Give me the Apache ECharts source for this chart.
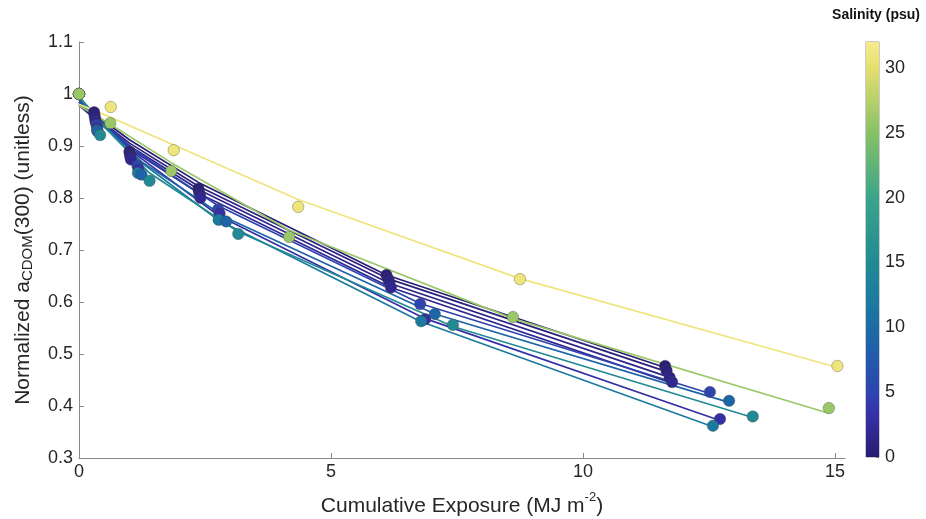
<!DOCTYPE html>
<html><head><meta charset="utf-8">
<script src="https://cdn.jsdelivr.net/npm/echarts@6/dist/echarts.min.js"></script>
<style>html,body{margin:0;padding:0;background:#fff}#c{width:926px;height:519px}</style>
</head><body><div id="c"></div>
<script>
// ---- Data ----
// Salinity (psu) of each incubation
const salYellow = 31, salGreen = 26;
const salA = 0.3, salB = 0.8, salC = 1.3, salD = 1.8;
const salE = 5, salH = 3, salI = 12, salF = 9, salG = 15;

// Cumulative exposure (MJ m^-2), measured normalized aCDOM(300), fitted curve values
const expYellow = [0, 0.63, 1.88, 4.35, 8.75, 15.05];
const valYellow = [1.000, 0.975, 0.892, 0.783, 0.644, 0.477];
const fitYellow = [0.980, 0.955, 0.902, 0.797, 0.645, 0.474];

const expGreen = [0, 0.62, 1.83, 4.17, 8.61, 14.88];
const valGreen = [1.000, 0.944, 0.852, 0.725, 0.571, 0.396];
const fitGreen = [0.978, 0.942, 0.868, 0.738, 0.568, 0.386];

const expA = [0, 0.30, 1.00, 2.37, 6.10, 11.63];
const valA = [1.000, 0.965, 0.889, 0.818, 0.652, 0.477];
const fitA = [0.985, 0.962, 0.912, 0.830, 0.652, 0.474];

const expB = [0, 0.31, 1.01, 2.38, 6.13, 11.66];
const valB = [1.000, 0.958, 0.884, 0.812, 0.645, 0.468];
const fitB = [0.982, 0.958, 0.905, 0.822, 0.645, 0.466];

const expC = [0, 0.32, 1.02, 2.40, 6.16, 11.72];
const valC = [1.000, 0.952, 0.879, 0.806, 0.638, 0.455];
const fitC = [0.980, 0.954, 0.899, 0.815, 0.636, 0.455];

const expD = [0, 0.33, 1.03, 2.41, 6.19, 11.77];
const valD = [1.000, 0.946, 0.874, 0.800, 0.628, 0.446];
const fitD = [0.978, 0.951, 0.893, 0.807, 0.628, 0.444];

const expE = [0, 0.35, 1.16, 2.76, 6.77, 12.52];
const valE = [1.000, 0.940, 0.862, 0.778, 0.596, 0.427];
const fitE = [0.985, 0.955, 0.888, 0.785, 0.597, 0.424];

const expH = [0, 0.36, 1.18, 2.79, 6.87, 12.72];
const valH = [1.000, 0.935, 0.855, 0.770, 0.567, 0.375];
const fitH = [0.990, 0.955, 0.880, 0.765, 0.568, 0.372];

const expI = [0, 0.36, 1.17, 2.77, 6.79, 12.58];
const valI = [1.000, 0.930, 0.848, 0.758, 0.563, 0.362];
const fitI = [0.995, 0.955, 0.873, 0.757, 0.562, 0.360];

const expF = [0, 0.37, 1.24, 2.92, 7.06, 12.90];
const valF = [1.000, 0.928, 0.845, 0.755, 0.577, 0.410];
const fitF = [0.990, 0.952, 0.870, 0.762, 0.577, 0.407];

const expG = [0, 0.42, 1.40, 3.16, 7.42, 13.37];
const valG = [1.000, 0.921, 0.833, 0.731, 0.556, 0.380];
const fitG = [0.995, 0.945, 0.848, 0.735, 0.553, 0.378];

const xTicks = [0, 5, 10, 15];
const yTicks = [0.3, 0.4, 0.5, 0.6, 0.7, 0.8, 0.9, 1, 1.1];
const cbTicks = [0, 5, 10, 15, 20, 25, 30];
const salMax = 32;

// ---- Styling ----
const FONT = '"Liberation Sans", Arial, Helvetica, sans-serif';
const TXT = '#262626';
const stops = [
  [0.00, [40, 28, 112]],
  [0.10, [54, 48, 168]],
  [0.16, [45, 70, 176]],
  [0.28, [29, 100, 168]],
  [0.375, [27, 122, 158]],
  [0.47, [33, 138, 148]],
  [0.625, [58, 165, 138]],
  [0.78, [134, 193, 102]],
  [0.94, [230, 224, 110]],
  [1.00, [247, 235, 142]]
];
function colorFor(s) {
  const t = Math.max(0, Math.min(1, s / salMax));
  for (let i = 1; i < stops.length; i++) {
    if (t <= stops[i][0]) {
      const a = stops[i - 1], b = stops[i];
      const f = (t - a[0]) / (b[0] - a[0]);
      const c = a[1].map((v, k) => Math.round(v + (b[1][k] - v) * f));
      return 'rgb(' + c.join(',') + ')';
    }
  }
  return 'rgb(' + stops[stops.length - 1][1].join(',') + ')';
}

const groups = [
  [salA, expA, valA, fitA], [salB, expB, valB, fitB], [salC, expC, valC, fitC], [salD, expD, valD, fitD],
  [salE, expE, valE, fitE], [salH, expH, valH, fitH], [salI, expI, valI, fitI], [salF, expF, valF, fitF],
  [salG, expG, valG, fitG], [salYellow, expYellow, valYellow, fitYellow], [salGreen, expGreen, valGreen, fitGreen]
];

const series = [];
groups.forEach((g, gi) => {
  const [s, ex, va, fi] = g;
  const col = colorFor(s);
  series.push({
    type: 'line', xAxisIndex: 0, yAxisIndex: 0, z: 2 + gi * 0.01,
    data: ex.map((x, i) => [x, fi[i]]),
    showSymbol: false, smooth: false, silent: true,
    lineStyle: { color: col, width: 1.7 }
  });
  series.push({
    type: 'scatter', xAxisIndex: 0, yAxisIndex: 0, z: 3 + gi * 0.01,
    data: ex.map((x, i) => [x, va[i]]),
    symbol: 'circle', symbolSize: 11.5, silent: true,
    itemStyle: { color: col, borderColor: 'rgba(70,70,60,0.45)', borderWidth: 0.8, opacity: 1 }
  });
});

// colorbar as a bar filled with the salinity gradient
series.push({
  type: 'bar', xAxisIndex: 1, yAxisIndex: 1, data: [salMax], barWidth: '100%', silent: true,
  itemStyle: {
    color: new echarts.graphic.LinearGradient(0, 1, 0, 0,
      stops.map(s => ({ offset: s[0], color: 'rgb(' + s[1].join(',') + ')' })))
  }
});

const chart = echarts.init(document.getElementById('c'), null, { renderer: 'canvas' });
chart.setOption({
  backgroundColor: '#fff',
  animation: false,
  title: {
    text: 'Salinity (psu)', right: 1, top: 3,
    textStyle: { fontFamily: FONT, fontSize: 14, fontWeight: 'bold', color: '#111' }
  },
  grid: [
    { left: 79, right: 81, top: 42, bottom: 61, outerBoundsMode: 'none', containLabel: false },
    { left: 866, width: 13, top: 42, height: 415, show: true, borderColor: '#999', borderWidth: 1, outerBoundsMode: 'none', containLabel: false }
  ],
  xAxis: [{
    type: 'value', min: 0, max: 15.2, interval: 5, gridIndex: 0,
    name: '{t|Cumulative Exposure (MJ m}{p|-2}{t|)}',
    nameLocation: 'middle', nameGap: 33,
    nameTextStyle: {
      fontFamily: FONT, color: TXT,
      rich: {
        t: { fontFamily: FONT, fontSize: 21, color: TXT, lineHeight: 26, verticalAlign: 'bottom' },
        p: { fontFamily: FONT, fontSize: 13, color: TXT, lineHeight: 14, verticalAlign: 'top' }
      }
    },
    axisLine: { show: true, onZero: false, lineStyle: { color: '#8a8a8a', width: 1 } },
    axisTick: { show: true, inside: true, length: 5, customValues: xTicks, lineStyle: { color: '#8a8a8a' } },
    axisLabel: { customValues: xTicks, fontFamily: FONT, fontSize: 18, color: TXT, margin: 5 },
    splitLine: { show: false }
  }, {
    type: 'category', gridIndex: 1, data: ['s'], show: false
  }],
  yAxis: [{
    type: 'value', min: 0.3, max: 1.1, interval: 0.1, gridIndex: 0,
    name: '{t|Normalized a}{s|CDOM}{t|(300) (unitless)}',
    nameLocation: 'middle', nameGap: 44,
    nameTextStyle: {
      fontFamily: FONT, color: TXT,
      rich: {
        t: { fontFamily: FONT, fontSize: 21, color: TXT, lineHeight: 22, verticalAlign: 'top' },
        s: { fontFamily: FONT, fontSize: 15, color: TXT, lineHeight: 16, verticalAlign: 'bottom' }
      }
    },
    axisLine: { show: true, onZero: false, lineStyle: { color: '#8a8a8a', width: 1 } },
    axisTick: { show: true, inside: true, length: 5, customValues: yTicks, lineStyle: { color: '#8a8a8a' } },
    axisLabel: {
      customValues: yTicks, fontFamily: FONT, fontSize: 18, color: TXT, margin: 6,
      formatter: v => String(Math.round(v * 10) / 10)
    },
    splitLine: { show: false }
  }, {
    type: 'value', gridIndex: 1, min: 0, max: salMax, interval: 5, position: 'right',
    axisLine: { show: false },
    axisTick: { show: true, inside: true, length: 3, customValues: cbTicks, lineStyle: { color: '#777' } },
    axisLabel: { customValues: cbTicks, fontFamily: FONT, fontSize: 18, color: TXT, margin: 6 },
    splitLine: { show: false }
  }],
  series: series
});
</script>
</body></html>
